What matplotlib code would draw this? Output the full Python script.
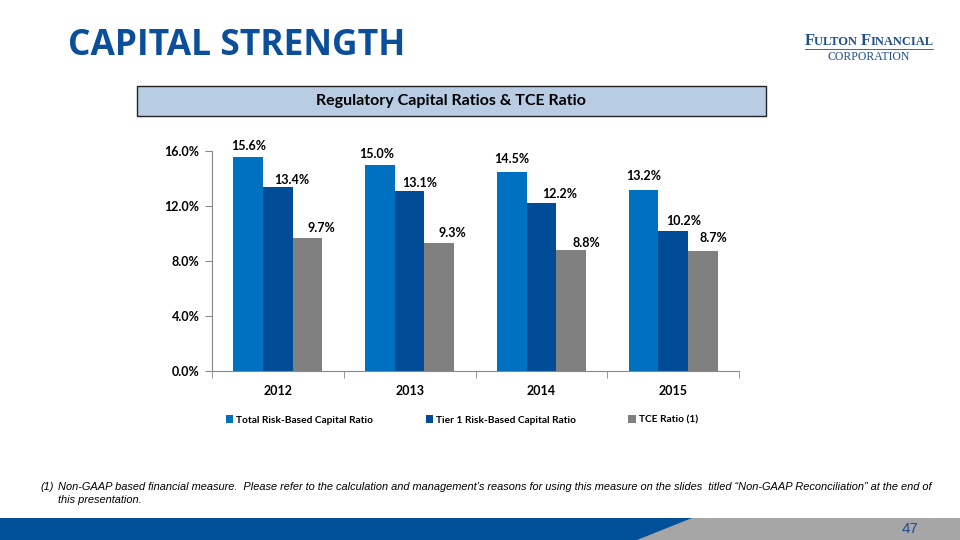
import numpy as np
import matplotlib.pyplot as plt
from matplotlib.patches import Rectangle, Polygon

# Chart data
years = ['2012', '2013', '2014', '2015']
total_rbc = [15.6, 15.0, 14.5, 13.2]
tier1_rbc = [13.4, 13.1, 12.2, 10.2]
tce_ratio = [9.7, 9.3, 8.8, 8.7]
series_names = ['Total Risk-Based Capital Ratio', 'Tier 1 Risk-Based Capital Ratio', 'TCE Ratio (1)']
yticks = [0, 4, 8, 12, 16]

colors = ['#0070C0', '#004C97', '#808080']
navy = '#0B4F9A'
font = 'Lato'

# label nudges (pixels) as placed on the original slide
label_dx = [[0, -3, 0, 0], [14, 10, 18, 11], [14, 13, 15, 11]]
label_dy = [[4, 4, 6, 6], [0, 1, 2, 3], [3, 3, 0, 6]]

fig = plt.figure(figsize=(9.6, 5.4), dpi=100)

# Slide title
fig.text(68 / 960, 1 - 46 / 540, 'CAPITAL STRENGTH', fontsize=25.5, fontweight='bold',
         color=navy, family='Open Sans', va='center', ha='left')

# Logo (text stand-in, small caps built from pieces)
renderer = fig.canvas.get_renderer()


def small_caps(word_parts, y, x_center, big, small):
    pieces = []
    for txt, is_big in word_parts:
        t = fig.text(0, y, txt, fontsize=big if is_big else small, fontweight='bold',
                     color='#1F4E8C', family='Liberation Serif', va='baseline')
        pieces.append(t)
    widths = [p.get_window_extent(renderer).width / 960 for p in pieces]
    x = x_center - sum(widths) / 2
    for p, wd in zip(pieces, widths):
        p.set_x(x)
        x += wd


small_caps([('F', True), ('ULTON ', False), ('F', True), ('INANCIAL', False)],
           1 - 45 / 540, 869 / 960, 12, 9)
fig.add_artist(plt.Line2D([805 / 960, 933 / 960], [1 - 48.5 / 540, 1 - 48.5 / 540],
                          color='#1F4E8C', lw=0.6))
fig.text(869 / 960, 1 - 57 / 540, 'CORPORATION', fontsize=8.5,
         color='#1F4E8C', family='Liberation Serif', ha='center', va='center')

# Header box
fig.add_artist(Rectangle((137 / 960, 1 - 116 / 540), 629 / 960, 30 / 540,
                         transform=fig.transFigure, facecolor='#B8CCE4',
                         edgecolor='#222222', lw=1.0))
fig.text(451 / 960, 1 - 101 / 540, 'Regulatory Capital Ratios & TCE Ratio',
         fontsize=11.5, fontweight='bold', family=font, ha='center', va='center')

# Chart
ax = fig.add_axes([212 / 960, 1 - 371 / 540, 527 / 960, 220 / 540])
x = np.arange(len(years))
w = 0.225
for i, (vals, c) in enumerate(zip([total_rbc, tier1_rbc, tce_ratio], colors)):
    pos = x + (i - 1) * w
    ax.bar(pos, vals, width=w, color=c, label=series_names[i])
    for j, (p, v) in enumerate(zip(pos, vals)):
        ax.annotate(f'{v:.1f}%', (p, v),
                    xytext=(label_dx[i][j] * 0.72, (1 + label_dy[i][j]) * 0.72),
                    textcoords='offset points',
                    ha='center', va='bottom', fontsize=9, fontweight='bold', family=font)

ax.set_xlim(-0.5, 3.5)
ax.set_ylim(0, 16)
ax.set_yticks(yticks)
ax.set_yticklabels([f'{t:.1f}%' for t in yticks], fontsize=9, fontweight='bold', family=font)
ax.set_xticks(x)
ax.set_xticklabels(years, fontsize=9, fontweight='bold', family=font)
ax.set_xticks(np.arange(-0.5, 4.0, 1.0), minor=True)
ax.tick_params(axis='x', which='major', length=0, pad=10)
ax.tick_params(axis='x', which='minor', length=5, color='#888888', direction='out')
ax.tick_params(axis='y', length=5, color='#888888', direction='out', pad=4)
for s in ['top', 'right']:
    ax.spines[s].set_visible(False)
for s in ['left', 'bottom']:
    ax.spines[s].set_color('#888888')
    ax.spines[s].set_linewidth(0.8)
ax.set_facecolor('none')

leg = fig.legend(loc='center', bbox_to_anchor=(462 / 960, 1 - 420 / 540), ncol=3,
                 frameon=False, handlelength=0.75, handleheight=0.75, handletextpad=0.3,
                 columnspacing=5.15, prop={'family': font, 'weight': 'bold', 'size': 7.3})

# Footnote
fig.text(40 / 960, 1 - 487 / 540, '(1)', fontsize=7.9, style='italic',
         family='Liberation Sans', va='center')
fig.text(58 / 960, 1 - 487 / 540,
         'Non-GAAP based financial measure.  Please refer to the calculation and management\u2019s reasons for using this measure on the slides  titled \u201cNon-GAAP Reconciliation\u201d at the end of',
         fontsize=7.9, style='italic', family='Liberation Sans', va='center')
fig.text(58 / 960, 1 - 500 / 540, 'this presentation.', fontsize=7.9, style='italic',
         family='Liberation Sans', va='center')

# Bottom band
fig.add_artist(Rectangle((0, 0), 1, 22 / 540, transform=fig.transFigure,
                         facecolor='#A6A6A6', edgecolor='none'))
fig.add_artist(Polygon([(0, 0), (637 / 960, 0), (692 / 960, 22 / 540), (0, 22 / 540)],
                       closed=True, transform=fig.transFigure,
                       facecolor='#00509A', edgecolor='none'))
fig.text(910 / 960, 1 - 529 / 540, '47', fontsize=11, color='#1F4E8C',
         family='Liberation Sans', ha='center', va='center')

fig.savefig('out.png', dpi=100)
